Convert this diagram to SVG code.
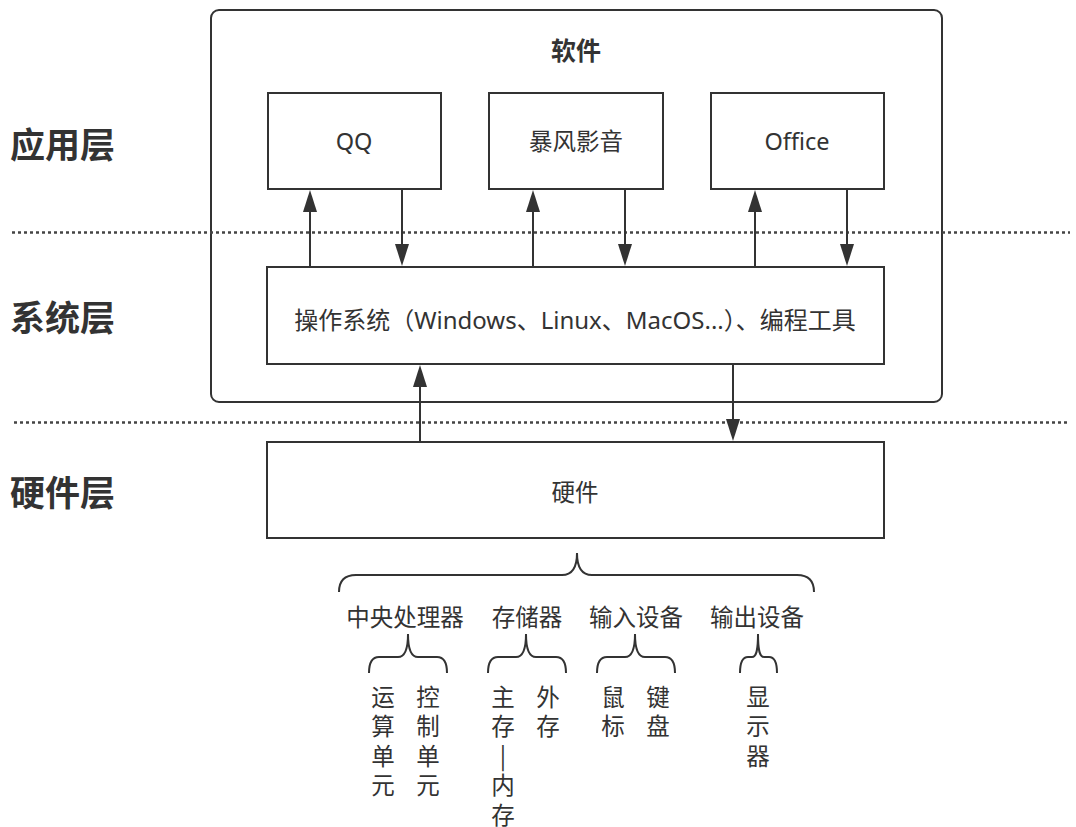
<svg xmlns="http://www.w3.org/2000/svg" width="1076" height="827" viewBox="0 0 1076 827">
<style>
text{font-family:"Noto Sans","Noto Sans CJK SC",sans-serif;fill:#333;}
.t{font-size:23.5px;text-anchor:middle;}
.c{font-family:"Noto Sans CJK SC",sans-serif;}
.layer{font-size:35px;font-weight:bold;font-family:"Noto Sans CJK SC",sans-serif;}
.title{font-size:25px;font-weight:bold;text-anchor:middle;font-family:"Noto Sans CJK SC",sans-serif;}
.box{fill:#fff;stroke:#333;stroke-width:2;}
.ln{stroke:#333;stroke-width:2;fill:none;}
.dot{stroke:#444;stroke-width:2.5;stroke-dasharray:3 3;fill:none;}
.brace{stroke:#333;stroke-width:2;fill:none;}
.v{font-size:23.5px;font-family:"Noto Sans CJK SC",sans-serif;writing-mode:vertical-rl;text-orientation:upright;letter-spacing:6px;}
</style>
<defs>
<marker id="arr" markerUnits="userSpaceOnUse" markerWidth="22" markerHeight="14" viewBox="0 0 22 14" refX="17" refY="7" orient="auto">
<path d="M0,0 L22,7 L0,14 Z" fill="#333"/>
</marker>
</defs>
<rect width="1076" height="827" fill="#fff"/>

<g id="layer-labels">
<text class="layer" x="10" y="158">应用层</text>
<text class="layer" x="10" y="331">系统层</text>
<text class="layer" x="10" y="506">硬件层</text>
</g>

<g id="software">
<rect class="box" x="211" y="10" width="731" height="392" rx="8"/>
<text class="title" x="576" y="60">软件</text>
</g>

<g id="dividers">
<line class="dot" x1="12" y1="232.5" x2="1070" y2="232.5"/>
<line class="dot" x1="14" y1="422.5" x2="1070" y2="422.5"/>
</g>

<g id="qq">
<rect class="box" x="268" y="93" width="173" height="96"/>
<text class="t" x="354" y="150">QQ</text>
</g>
<g id="baofeng">
<rect class="box" x="489" y="93" width="174" height="96"/>
<text class="t" x="576" y="150">暴风影音</text>
</g>
<g id="office">
<rect class="box" x="711" y="93" width="173" height="96"/>
<text class="t" x="797" y="150">Office</text>
</g>
<g id="os">
<rect class="box" x="267" y="267" width="617" height="97"/>
<text class="t" x="575" y="329" style="font-size:24px">操作系统（Windows、Linux、MacOS...）、编程工具</text>
</g>
<g id="hardware">
<rect class="box" x="267" y="442" width="617" height="96"/>
<text class="t" x="575" y="501">硬件</text>
</g>

<g id="connectors">
<line class="ln" x1="310" y1="267" x2="310" y2="195" marker-end="url(#arr)"/>
<line class="ln" x1="402" y1="189" x2="402" y2="261" marker-end="url(#arr)"/>
<line class="ln" x1="533" y1="267" x2="533" y2="195" marker-end="url(#arr)"/>
<line class="ln" x1="625" y1="189" x2="625" y2="261" marker-end="url(#arr)"/>
<line class="ln" x1="755" y1="267" x2="755" y2="195" marker-end="url(#arr)"/>
<line class="ln" x1="847" y1="189" x2="847" y2="261" marker-end="url(#arr)"/>
<line class="ln" x1="420" y1="442" x2="420" y2="370" marker-end="url(#arr)"/>
<line class="ln" x1="733" y1="364" x2="733" y2="436" marker-end="url(#arr)"/>
</g>

<g id="hardware-parts">
<path class="brace" d="M339,592 Q339,575 356,575 L562,575 C572,575 577,568 577,553 C577,568 582,575 592,575 L797,575 Q814,575 814,592"/>
<text class="t c" x="405" y="626">中央处理器</text>
<text class="t c" x="527" y="626">存储器</text>
<text class="t c" x="636" y="626">输入设备</text>
<text class="t c" x="757" y="626">输出设备</text>
</g>

<g id="cpu-parts">
<path class="brace" d="M369,673 Q369,657 379,657 L398,657 C404,657 408,652 408,634 C408,652 412,657 418,657 L437,657 Q447,657 447,673"/>
<text class="v" x="383" y="685">运算单元</text>
<text class="v" x="428" y="685">控制单元</text>
</g>

<g id="storage-parts">
<path class="brace" d="M488,673 Q488,657 498,657 L516,657 C522,657 526,652 526,634 C526,652 530,657 536,657 L556,657 Q566,657 566,673"/>
<text class="v" x="503" y="685">主存|内存</text>
<text class="v" x="548" y="685">外存</text>
</g>

<g id="input-parts">
<path class="brace" d="M597,673 Q597,657 607,657 L625,657 C631,657 635,652 635,634 C635,652 639,657 645,657 L665,657 Q675,657 675,673"/>
<text class="v" x="613" y="685">鼠标</text>
<text class="v" x="658" y="685">键盘</text>
</g>

<g id="output-parts">
<path class="brace" d="M740,673 Q740,657 748,657 L752,657 C756,657 758,652 758,634 C758,652 760,657 764,657 L769,657 Q777,657 777,673"/>
<text class="v" x="758" y="685">显示器</text>
</g>
</svg>
